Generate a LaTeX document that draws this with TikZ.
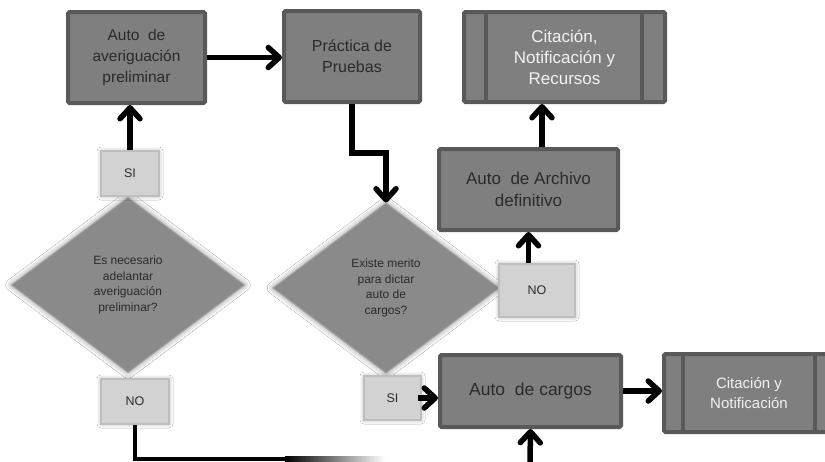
\documentclass[tikz,border=0pt]{standalone}
\usepackage{fontspec}
\setmainfont{Liberation Sans}
\usetikzlibrary{arrows.meta,shapes.geometric,shadows.blur}
\definecolor{boxfill}{HTML}{7F7F7F}
\definecolor{boxline}{HTML}{595959}
\definecolor{dfill}{HTML}{8A8A8A}
\definecolor{dline}{HTML}{A0A0A0}
\definecolor{lfill}{HTML}{D2D2D2}
\definecolor{lline}{HTML}{BEBEBE}
\definecolor{txt}{HTML}{2B2B2B}
\definecolor{wtxt}{HTML}{F2F2F2}
\pgfdeclarearrow{
  name = Chev,
  setup code = {
    \pgfarrowssettipend{2.75pt}
    \pgfarrowssetlineend{-1pt}
    \pgfarrowssetvisualbackend{-12pt}
    \pgfarrowssetbackend{-12pt}
    \pgfarrowshullpoint{2.75pt}{0pt}
    \pgfarrowshullpoint{-12pt}{11pt}
    \pgfarrowshullpoint{-12pt}{-11pt}
  },
  drawing code = {
    \pgfsetlinewidth{5.5pt}
    \pgfsetdash{}{0pt}
    \pgfsetroundjoin
    \pgfsetroundcap
    \pgfpathmoveto{\pgfqpoint{-11pt}{10pt}}
    \pgfpathlineto{\pgfqpoint{0pt}{0pt}}
    \pgfpathlineto{\pgfqpoint{-11pt}{-10pt}}
    \pgfusepathqstroke
  }
}
\begin{document}
\begin{tikzpicture}[x=1pt,y=-1pt,
  procbox/.style={draw=boxline, fill=boxfill, line width=4pt, rounded corners=1.5pt,
    text=txt, align=center, inner sep=0pt},
  predef/.style={procbox, text=wtxt},
  decision/.style={diamond, draw=dline, fill=dfill, line width=1pt, inner sep=0pt,
    text=txt, align=center, font=\fontsize{12}{15.5}\selectfont,
    blur shadow={shadow xshift=0pt, shadow yshift=0pt, shadow opacity=50, shadow blur radius=6pt}},
  answer/.style={draw=lline, fill=lfill, line width=1.5pt, inner sep=0pt, text=txt,
    font=\fontsize{12.5}{14}\selectfont,
    blur shadow={shadow xshift=0pt, shadow yshift=0pt, shadow opacity=35, shadow blur radius=4pt}},
  conn/.style={line width=5.5pt, black, line join=miter, -{Chev}},
  plainline/.style={line width=4.5pt, black, line join=miter}
]
\fill[white] (0,0) rectangle (825,461);
\useasboundingbox (0,0) rectangle (825,461);

% decisions
\node[decision, minimum width=233pt, minimum height=175pt] (d1) at (128,285)
  {Es necesario\\adelantar\\averiguación\\preliminar?};
\node[decision, minimum width=226pt, minimum height=170pt] (d2) at (386,288)
  {Existe merito\\para dictar\\auto de\\cargos?};

% answers
\node[answer, minimum width=58pt, minimum height=45pt] (si1) at (130,173.5) {SI};
\node[answer, minimum width=68pt, minimum height=45pt] (no1) at (135,401.5) {NO};
\node[answer, minimum width=76pt, minimum height=53pt] (no2) at (537,290.5) {NO};
\node[answer, minimum width=57pt, minimum height=44pt] (si2) at (392.5,398) {SI};

% process boxes
\node[procbox, minimum width=137pt, minimum height=91pt, font=\fontsize{15.5}{21}\selectfont]
  (b1) at (136.5,57.5) {\raisebox{-3pt}{\parbox{130pt}{\centering Auto\ \ de\\averiguación\\preliminar}}};
\node[procbox, minimum width=136pt, minimum height=91pt, font=\fontsize{16}{21}\selectfont]
  (b2) at (352,56.5) {Práctica de\\Pruebas};
\node[predef, minimum width=201pt, minimum height=90pt, font=\fontsize{17}{21}\selectfont]
  (b3) at (564.5,57) {Citación,\\Notificación y\\Recursos};
\node[procbox, minimum width=179pt, minimum height=81pt, font=\fontsize{17}{22}\selectfont]
  (b4) at (528.5,189.5) {Auto\ \ de Archivo\\definitivo};
\node[procbox, minimum width=181pt, minimum height=72pt, font=\fontsize{17.5}{22}\selectfont]
  (b5) at (530.5,391) {Auto\ \ de cargos};
\node[predef, minimum width=170pt, minimum height=78pt, font=\fontsize{15}{20}\selectfont]
  (b6) at (749,393) {Citación y\\Notificación};

% predefined-process inner bars
\draw[boxline, line width=4pt] ([xshift=24pt]b3.north west) -- ([xshift=24pt]b3.south west);
\draw[boxline, line width=4pt] ([xshift=-25pt]b3.north east) -- ([xshift=-25pt]b3.south east);
\draw[boxline, line width=4pt] ([xshift=21pt]b6.north west) -- ([xshift=21pt]b6.south west);
\draw[boxline, line width=4pt] ([xshift=-21pt]b6.north east) -- ([xshift=-21pt]b6.south east);

% connectors
\draw[conn] (si1.north) -- (si1.north |- b1.south);
\draw[conn] (b1.east) -- (b1.east -| b2.west);
\draw[conn] (b2.south) -- ++(0,49) -| (d2.north);
\draw[conn] (b4.south |- no2.north) -- (b4.south);
\draw[conn] ([xshift=13.5pt]b4.north) -- ([xshift=13.5pt]b4.north |- b3.south);
\draw[conn] ([xshift=-4pt]si2.east) -- (si2.east -| b5.west);
\draw[conn] (b5.east) -- (b5.east -| b6.west);
\coordinate (bot) at (530,463);
\draw[conn] (bot) -- (b5.south);

% bottom line from NO, fading out
\coordinate (fadeA) at (285,459);
\draw[plainline] (no1.south) |- (fadeA);
\shade[left color=black, right color=white] (285,456.75) rectangle (385,461.25);
\end{tikzpicture}
\end{document}
